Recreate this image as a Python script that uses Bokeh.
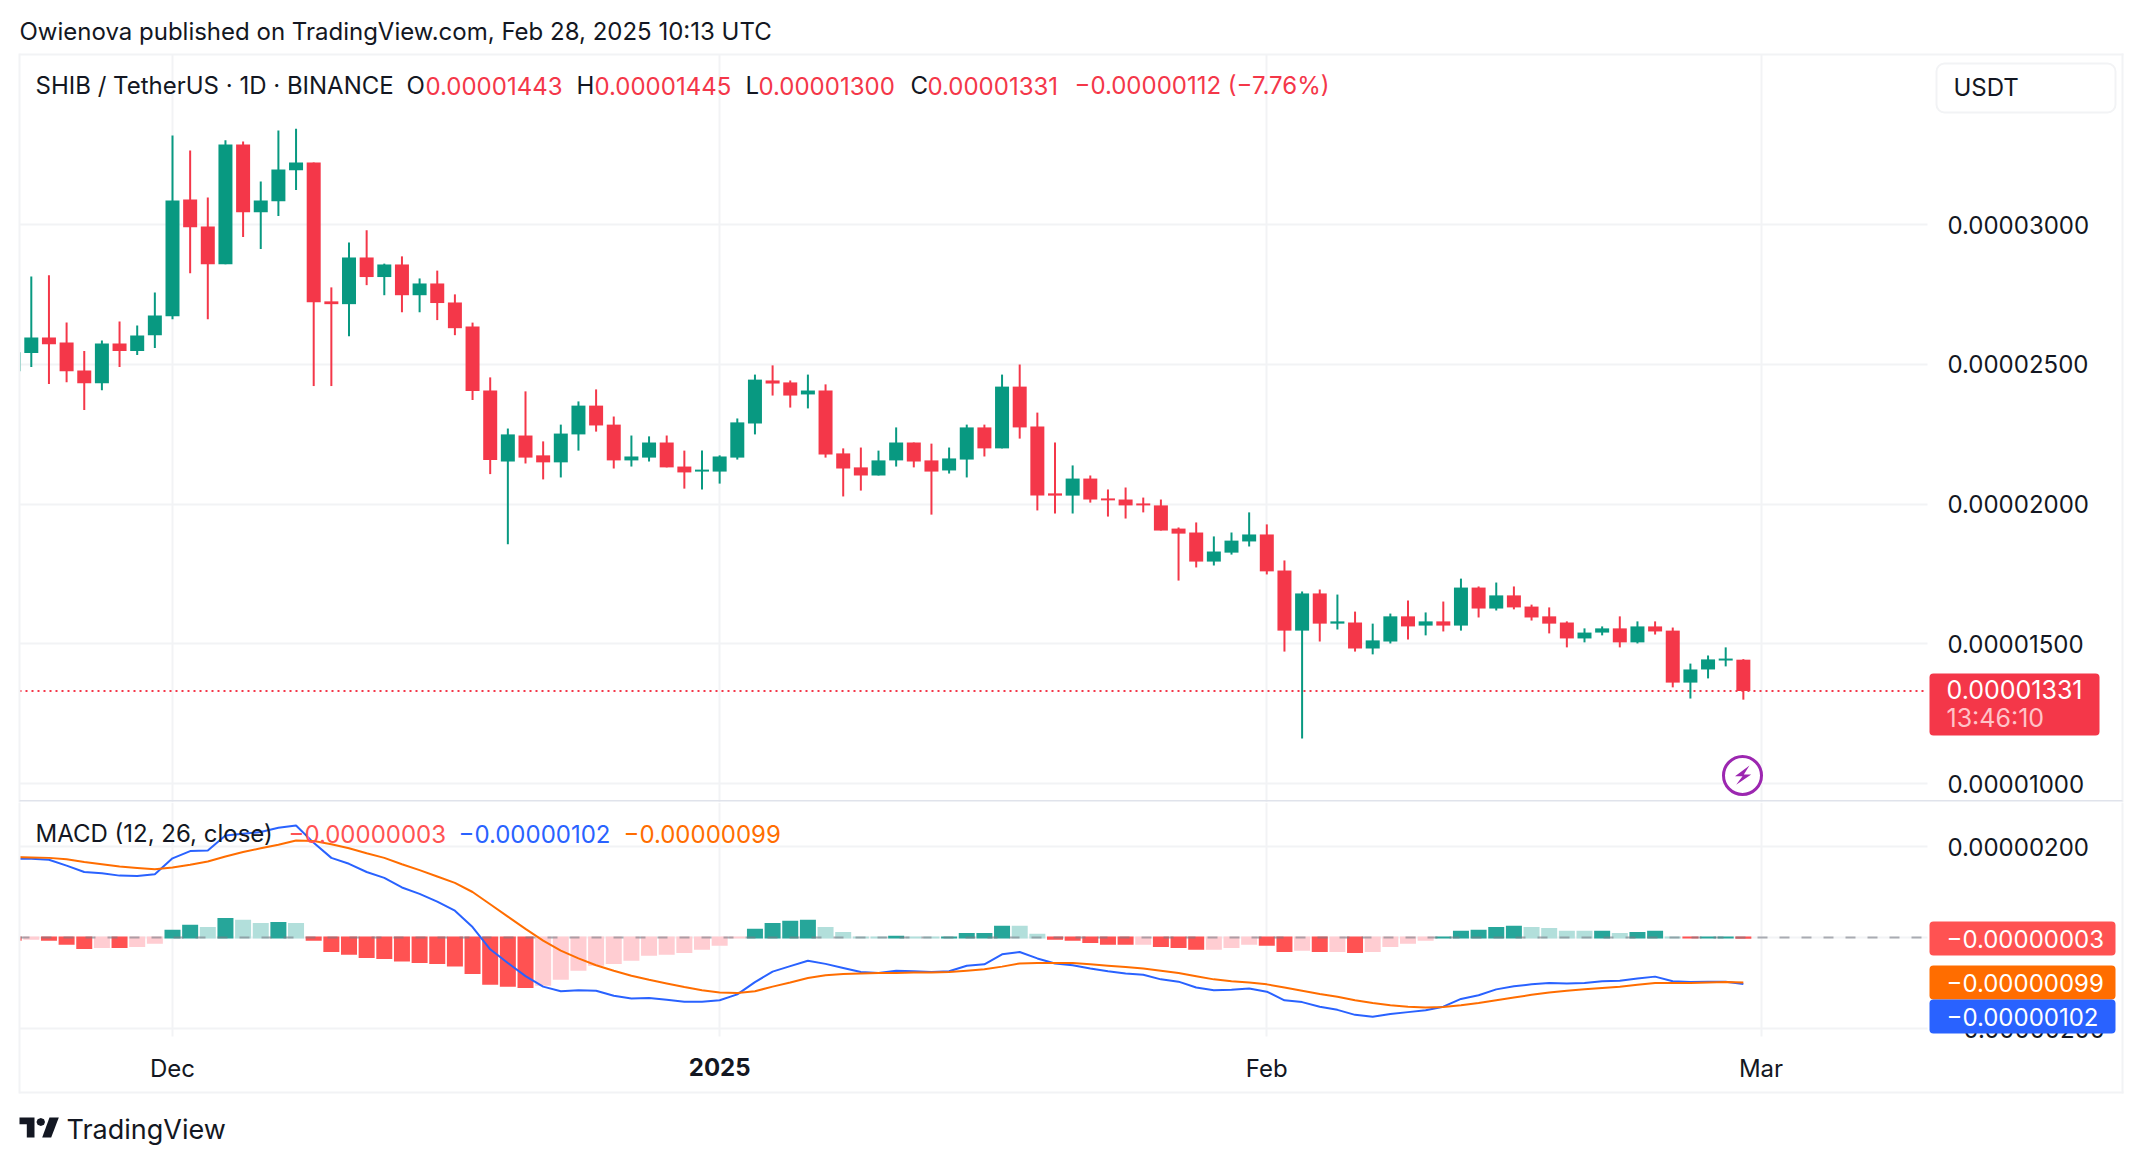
from bokeh.embed import file_html
from bokeh.layouts import column
from bokeh.models import (BoxAnnotation, ColumnDataSource, FixedTicker, Grid, Label,
                          PolyAnnotation, Range1d)
from bokeh.plotting import figure
from bokeh.resources import INLINE

# Prices and MACD values are in units of 0.00000001. Day 0 = 1 Dec 2024.
first_day = -9
opens = [2475,2540,2596,2578,2478,2432,2574,2547,2604,2672,3089,2993,2858,3286,3044,3083,3194,3222,2725,2715,2882,2812,2857,2747,2789,2721,2635,2406,
         2152,2245,2174,2149,2249,2352,2284,2156,2166,2220,2134,2116,2116,2166,2288,2442,2435,2392,2406,2181,2131,2102,2156,2220,2156,2120,2159,2274,2199,2420,2277,2038,2030,
         2091,2020,2016,2002,1995,1912,1898,1794,1826,1866,1891,
         1762,1547,1680,1572,1576,1483,1508,1598,1565,1580,1565,1701,1626,1673,1633,1598,1576,1519,1540,1555,1505,1562,1547,1361,1408,1440,1443]
highs = [2543,2814,2818,2649,2547,2585,2653,2639,2757,3318,3265,3097,3301,3297,3154,3336,3343,3222,2775,2936,2979,2860,2886,2807,2835,2750,2649,2453,
         2270,2403,2224,2284,2367,2410,2313,2245,2242,2245,2191,2191,2174,2306,2463,2496,2442,2463,2428,2199,2202,2191,2274,2220,2216,2202,2284,2284,2463,2499,2327,2220,2138,
         2102,2052,2059,2023,2016,1916,1934,1884,1898,1970,1927,
         1798,1687,1694,1676,1615,1572,1608,1655,1612,1651,1733,1705,1719,1705,1640,1630,1580,1555,1562,1598,1580,1580,1558,1429,1458,1487,1445]
lows = [2475,2490,2429,2436,2336,2407,2490,2533,2558,2661,2826,2661,2858,2955,2912,3030,3123,2422,2422,2600,2783,2747,2686,2686,2658,2604,2372,2107,
        1856,2145,2088,2095,2191,2259,2127,2134,2152,2131,2055,2052,2073,2159,2249,2388,2345,2342,2166,2027,2048,2102,2134,2131,1962,2109,2095,2170,2199,2234,1977,1966,1966,
        2005,1955,1948,1970,1905,1726,1773,1780,1819,1848,1748,
        1472,1161,1508,1551,1472,1462,1501,1515,1530,1544,1547,1594,1619,1623,1583,1537,1487,1505,1530,1487,1501,1533,1344,1304,1376,1419,1300]
closes = [2543,2596,2572,2475,2432,2574,2547,2603,2674,3086,2990,2858,3286,3044,3086,3197,3222,2722,2715,2882,2812,2857,2747,2789,2719,2629,2404,2157,
          2249,2166,2149,2252,2352,2281,2156,2170,2220,2131,2113,2123,2170,2292,2445,2431,2388,2406,2177,2127,2102,2156,2220,2152,2116,2163,2274,2199,2420,2274,2030,2030,2091,
          2016,2013,1995,1995,1905,1894,1794,1830,1869,1891,1759,
          1547,1680,1572,1580,1483,1512,1598,1562,1580,1565,1701,1626,1673,1630,1594,1572,1519,1540,1555,1505,1562,1544,1361,1408,1444,1447,1331]

macd_line = [173,173,171,158,144,141,136,135,139,174,190,191,224,228,232,241,246,208,175,162,144,131,110,96,79,59,23,-26,-56,-85,-108,-118,-116,-117,-128,-134,-133,-137,-141,-141,
             -138,-125,-98,-75,-63,-51,-58,-67,-76,-78,-73,-74,-76,-74,-62,-59,-37,-32,-46,-57,-61,-68,-74,-79,-82,-92,-97,-110,-116,-115,-112,-119,-138,-142,-152,-159,-170,-174,-168,
             -164,-160,-152,-135,-127,-114,-107,-103,-100,-101,-100,-96,-95,-90,-86,-96,-98,-97,-97,-102]
signal_line = [177,176,175,172,166,161,156,153,150,154,160,167,178,188,196,204,213,212,205,196,185,175,161,148,134,120,100,73,46,19,-7,-29,-46,-61,-73,-84,-93,-101,-109,-116,
               -121,-122,-118,-108,-99,-89,-83,-80,-79,-78,-78,-77,-77,-76,-73,-70,-64,-57,-56,-56,-56,-59,-62,-65,-68,-73,-78,-85,-92,-96,-99,-103,-110,-117,-124,-130,-138,-144,-149,
               -152,-154,-153,-149,-144,-138,-132,-126,-121,-117,-114,-111,-108,-104,-100,-100,-100,-99,-98,-99]
histogram = [-7,-5,-7,-16,-25,-23,-23,-21,-14,17,28,23,43,39,32,34,32,-7,-32,-38,-45,-47,-53,-56,-58,-64,-80,-104,-108,-111,-106,-93,-73,-62,-58,-51,-40,-38,-34,-27,
             -18,-2,19,32,37,39,23,12,2,2,4,2,2,2,10,10,26,26,8,-5,-7,-12,-16,-16,-16,-21,-23,-27,-27,-23,-16,-18,-32,-29,-32,-32,-34,-32,-21,
             -14,-7,2,15,17,23,26,23,21,15,15,15,10,12,15,2,-2,2,2,-3]
# R strong red, P pale red, G strong green, L pale green
hist_tone = list("RPRRRPRPPGGLGLLGLRRRRRRRRRRRRRPPPPPPPPPP"
                 "PPGGGGLLLLGLLGGGGLLRRRRRPRRRPPPRRPRPRPP"
                 "PPGGGGGLLLLGLGGLRGGR")

price_ticks = [1000, 1500, 2000, 2500, 3000]
price_labels = ["0.00001000", "0.00001500", "0.00002000", "0.00002500", "0.00003000"]
macd_ticks = [-200, 200]
macd_labels = ["\u22120.00000200", "0.00000200"]
macd_grid = [-200, 0, 200]
month_days = [0, 31, 62, 90]
month_labels = ["Dec", "", "Feb", "Mar"]
year_day = 31
year_label = "2025"
last_price = 1331

UP, DOWN = "#089981", "#F43749"
TONES = {"R": "#FF5252", "P": "#FFCDD2", "G": "#26A69A", "L": "#B2DFDB"}
INK, GRID, EDGE = "#131722", "#F2F3F5", "#E0E3EB"
BLUE, ORANGE, PURPLE = "#2962FF", "#FF6D00", "#9C27B0"
FONT = "Inter"
PLOT_L, PLOT_R = 20, 1928
W, H1, H2 = 2136, 802, 354
SHIFT = 1  # whole picture moved up/left by this many pixels


# reference pixel -> data coordinate helpers, used only for the surrounding chrome
def xd(px):
    return (px - 173) / 17.65


def y1(py):
    return 1000 + (784 - py) * 500 / 139.75


def y2(py):
    return (938 - py) * 200 / 91


days = list(range(first_day, first_day + len(opens)))
x_range = Range1d(xd(SHIFT), xd(W + SHIFT))

src = ColumnDataSource(dict(
    day=days, o=opens, h=highs, l=lows, c=closes,
    top=[max(a, b) for a, b in zip(opens, closes)],
    bot=[min(a, b) for a, b in zip(opens, closes)],
    col=[UP if c >= o else DOWN for o, c in zip(opens, closes)],
))

common = dict(width=W, x_range=x_range, output_backend="svg", toolbar_location=None,
              y_axis_location="right", min_border_left=0, min_border_right=0,
              min_border_top=0, min_border_bottom=0, outline_line_color=None,
              background_fill_color="white", border_fill_color="white")
p1 = figure(height=H1, y_range=Range1d(y1(H1 + SHIFT), y1(SHIFT)), x_axis_location=None, **common)
p2 = figure(height=H2, y_range=Range1d(y2(H1 + H2 + SHIFT), y2(H1 + SHIFT)),
            x_axis_location="below", **common)

for p in (p1, p2):
    p.grid.visible = False
    ax = p.yaxis[0]
    ax.axis_line_color = None
    ax.major_tick_line_color = None
    ax.minor_tick_line_color = None
    ax.major_tick_out = 0
    ax.major_tick_in = 0
    ax.major_label_standoff = 1947 - W
    ax.major_label_text_font = FONT
    ax.major_label_text_font_size = "24px"
    ax.major_label_text_color = INK

p1.add_layout(Grid(dimension=0, ticker=FixedTicker(ticks=month_days), grid_line_color=GRID,
                   grid_line_width=2, cross_bounds=(y1(803), y1(55))), "center")
p2.add_layout(Grid(dimension=0, ticker=FixedTicker(ticks=month_days), grid_line_color=GRID,
                   grid_line_width=2, cross_bounds=(y2(1037), y2(803))), "center")
p1.add_layout(Grid(dimension=1, ticker=FixedTicker(ticks=price_ticks), grid_line_color=GRID,
                   grid_line_width=2, cross_bounds=(xd(PLOT_L), xd(PLOT_R))), "center")
p2.add_layout(Grid(dimension=1, ticker=FixedTicker(ticks=macd_grid), grid_line_color=GRID,
                   grid_line_width=2, cross_bounds=(xd(PLOT_L), xd(PLOT_R))), "center")

p1.yaxis[0].ticker = FixedTicker(ticks=price_ticks)
p1.yaxis[0].major_label_overrides = dict(zip(price_ticks, price_labels))
p2.yaxis[0].ticker = FixedTicker(ticks=macd_ticks)
p2.yaxis[0].major_label_overrides = dict(zip(macd_ticks, macd_labels))

xax = p2.xaxis[0]
xax.ticker = FixedTicker(ticks=month_days)
xax.major_label_overrides = dict(zip(month_days, month_labels))
xax.axis_line_color = None
xax.major_tick_line_color = None
xax.minor_tick_line_color = None
xax.major_tick_out = 0
xax.major_tick_in = 0
xax.major_label_standoff = 1053 - (H1 + H2)
xax.major_label_text_font = FONT
xax.major_label_text_font_size = "24px"
xax.major_label_text_color = INK

# reference lines bounded to the plotting area
p1.segment([xd(PLOT_L)], [last_price], [xd(PLOT_R)], [last_price], line_color=DOWN,
           line_width=2, line_dash="2 4")

# candles
p1.segment("day", "h", "day", "l", source=src, line_color="col", line_width=2)
p1.vbar("day", width=14 / 17.65, top="top", bottom="bot", source=src,
        fill_color="col", line_color=None)

# MACD
hsrc = ColumnDataSource(dict(
    day=days, v=histogram, base=[-2 if v > 0 else 2 for v in histogram],
    col=[TONES[t] for t in hist_tone],
))
p2.vbar("day", width=16 / 17.65, top="v", bottom="base", source=hsrc, fill_color="col",
        line_color=None)
p2.segment([xd(PLOT_L)], [0], [xd(PLOT_R)], [0], line_color="#787B86", line_alpha=0.6,
           line_width=2, line_dash="10 12")
p2.line(days, macd_line, line_color=BLUE, line_width=2)
p2.line(days, signal_line, line_color=ORANGE, line_width=2)


def box(p, yf, x0, x1_, top, bottom, color, radius=0, line=None):
    p.add_layout(BoxAnnotation(left=xd(x0), right=xd(x1_), top=yf(top), bottom=yf(bottom),
                               fill_color=color, fill_alpha=1, line_color=line,
                               line_alpha=1 if line else 0, line_width=2,
                               border_radius=radius))


def lab(p, yf, x, y, text, color=INK, size=24, style="normal", align="left"):
    p.add_layout(Label(x=xd(x), y=yf(y), text=text, text_color=color, text_font=FONT,
                       text_font_size=f"{size}px", text_font_style=style,
                       text_align=align, text_baseline="middle"))


def poly(p, yf, pts, color):
    p.add_layout(PolyAnnotation(xs=[xd(a) for a, _ in pts], ys=[yf(b) for _, b in pts],
                                fill_color=color, fill_alpha=1, line_color=None))


# white mask left of the plotting area (the first candle is cut here)
box(p1, y1, 0, 20, 0, 804, "white")
box(p2, y2, 0, 20, 800, H1 + H2 + 2, "white")

# frame chrome
box(p1, y1, 20, 2124, 54, 56, GRID)
box(p1, y1, 19, 21, 54, 803, GRID)
box(p1, y1, 2122, 2124, 54, 803, GRID)
box(p1, y1, 20, 2123, 800.5, 802, EDGE)
box(p2, y2, 19, 21, 802, 1094, GRID)
box(p2, y2, 2122, 2124, 802, 1094, GRID)
box(p2, y2, 20, 2124, 1092, 1094, GRID)

# header + legend
lab(p1, y1, 20, 32, "Owienova published on TradingView.com, Feb 28, 2025 10:13 UTC")
lab(p1, y1, 36, 86, "SHIB / TetherUS \u00b7 1D \u00b7 BINANCE")
for x, letter, xv, val in [(407, "O", 426, "0.00001443"), (577, "H", 595, "0.00001445"),
                           (746, "L", 759, "0.00001300"), (911, "C", 928, "0.00001331")]:
    lab(p1, y1, x, 86, letter)
    lab(p1, y1, xv, 86, val, color=DOWN)
lab(p1, y1, 1075, 86, "\u22120.00000112 (\u22127.76%)", color=DOWN)

# USDT button
box(p1, y1, 1937, 2116, 64, 113, "white", radius=8, line=GRID)
lab(p1, y1, 1954, 88, "USDT")

# last price tag
box(p1, y1, 1930, 2100, 674, 736, DOWN, radius=4)
lab(p1, y1, 1947, 690, "0.00001331", color="white", size=25)
lab(p1, y1, 1947, 718, "13:46:10", color="#FFC3C8", size=25)

# lightning marker
p1.scatter([xd(1743)], [y1(776)], size=38, marker="circle", fill_color="white",
           line_color=PURPLE, line_width=3)
poly(p1, y1, [(1750, 766), (1735.5, 776.7), (1743, 776.7), (1736.7, 785.3),
              (1751.7, 775), (1744.3, 775)], PURPLE)

# MACD legend
lab(p2, y2, 36, 834, "MACD (12, 26, close)")
lab(p2, y2, 289, 834, "\u22120.00000003", color="#FF5252")
lab(p2, y2, 459, 834, "\u22120.00000102", color=BLUE)
lab(p2, y2, 624, 834, "\u22120.00000099", color=ORANGE)

# MACD tags
box(p2, y2, 1930, 2116, 922, 956, "#FF5252", radius=4)
lab(p2, y2, 1947, 939, "\u22120.00000003", color="white")
box(p2, y2, 1930, 2116, 966, 1000, ORANGE, radius=4)
lab(p2, y2, 1947, 983, "\u22120.00000099", color="white")
box(p2, y2, 1930, 2116, 1000, 1034, BLUE, radius=4)
lab(p2, y2, 1947, 1017, "\u22120.00000102", color="white")

# bold year label on the time axis
p2.add_layout(Label(x=year_day, y=y2(1067), text=year_label, text_color=INK, text_font=FONT,
                    text_font_size="24px", text_font_style="bold", text_align="center",
                    text_baseline="middle"))

# footer logo
poly(p2, y2, [(20, 1118), (35, 1118), (35, 1138), (27.3, 1138), (27.3, 1124.7), (20, 1124.7)], INK)
poly(p2, y2, [(41.3, 1118.5), (44.5, 1119.8), (45.5, 1122.5), (44.5, 1125.2), (41.3, 1126.5),
              (38.1, 1125.2), (37, 1122.5), (38.1, 1119.8)], INK)
poly(p2, y2, [(50, 1118), (59.3, 1118), (51.7, 1138), (42.7, 1138)], INK)
lab(p2, y2, 67, 1130, "TradingView", size=27)

page = column(p1, p2, spacing=0)
open("out.html", "w").write(file_html(page, INLINE))
